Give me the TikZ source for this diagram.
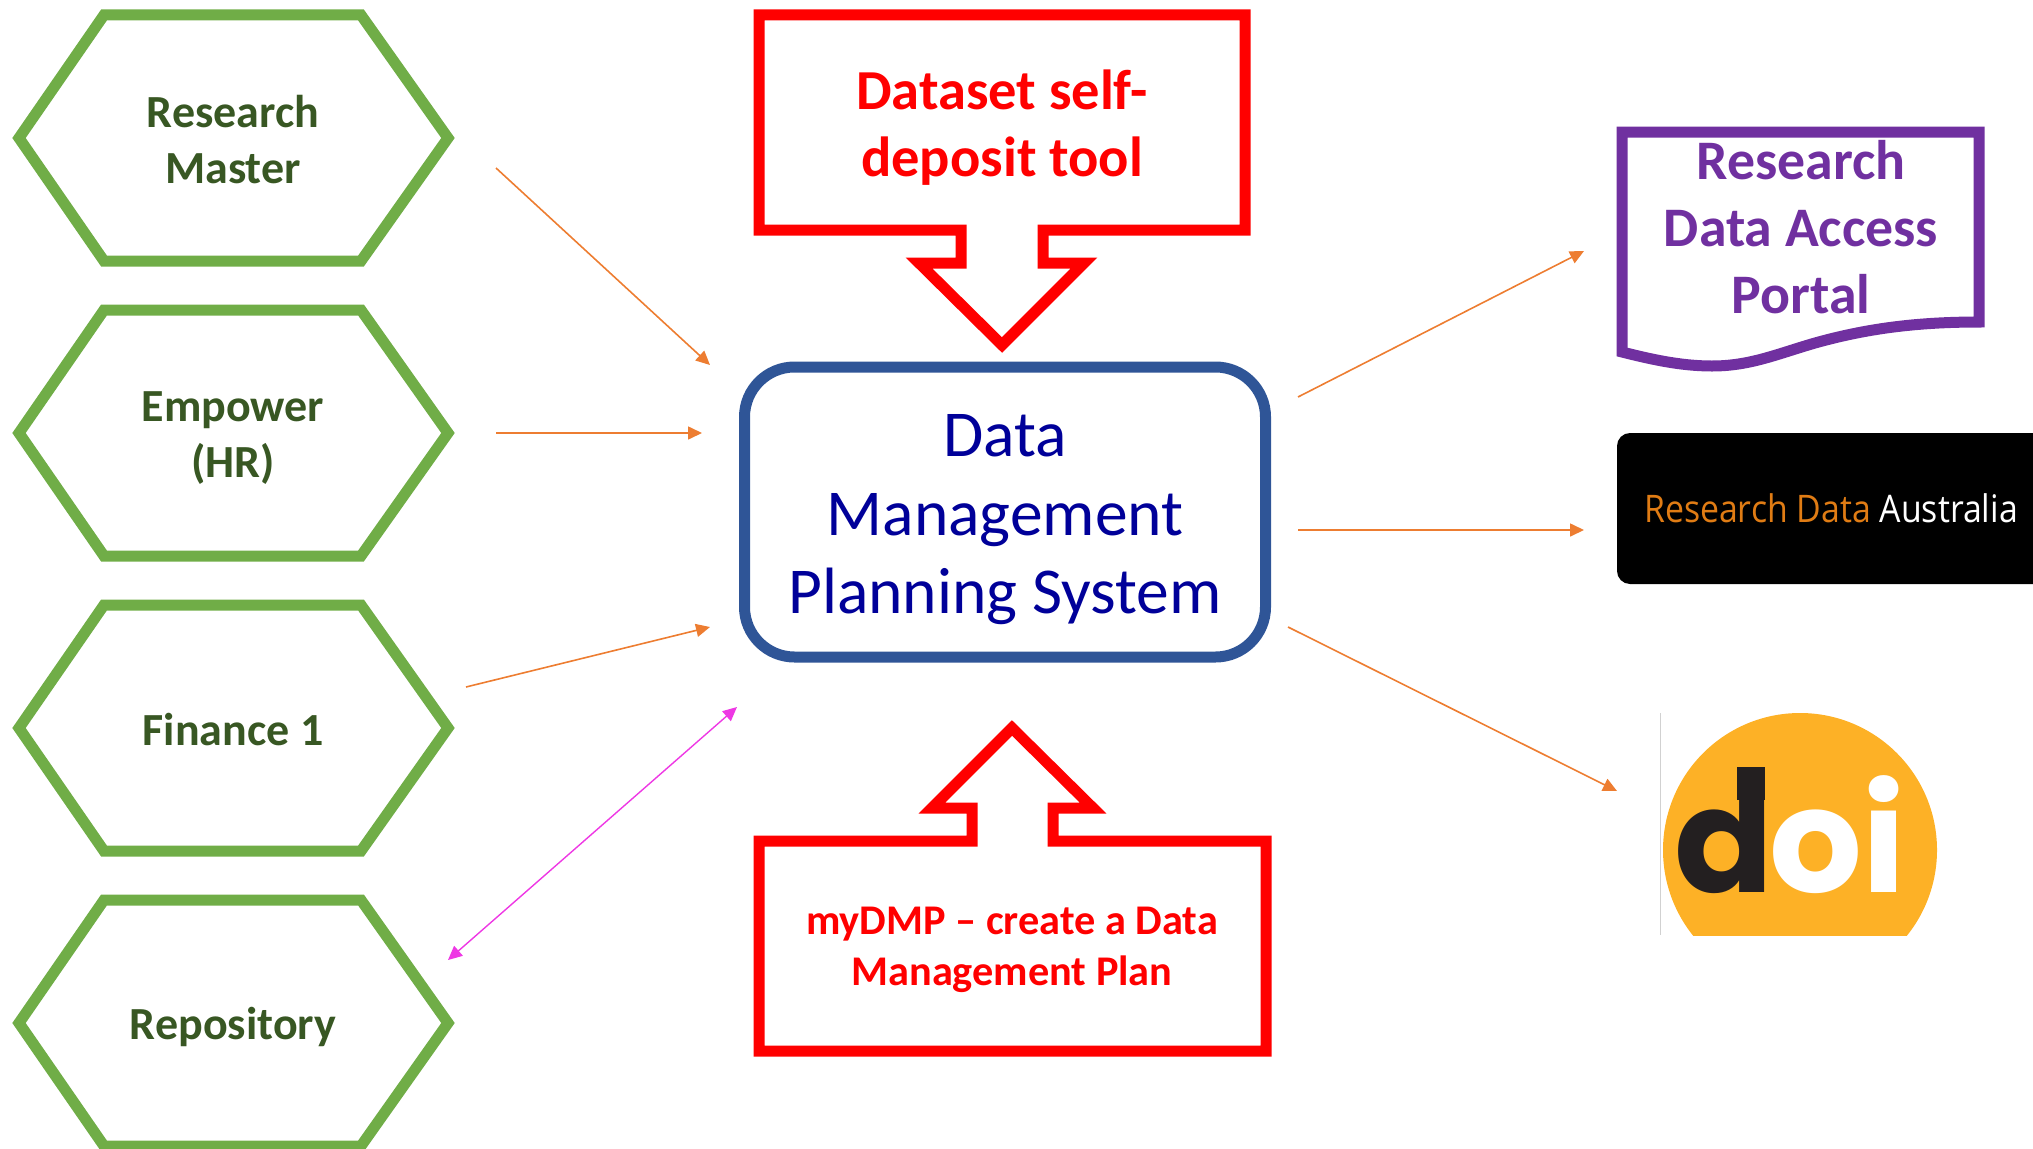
\documentclass[tikz,border=0pt]{standalone}
\usepackage{fontspec}
\setmainfont{Carlito}
\newfontfamily\rdafont{Open Sans}[FakeStretch=0.89]
\newfontfamily\doifont{Poppins}[UprightFont=* Bold]
\usetikzlibrary{arrows.meta}
\definecolor{hexgreen}{HTML}{70AD47}
\definecolor{hextext}{HTML}{385723}
\definecolor{dmpblue}{HTML}{2F5597}
\definecolor{dmptext}{HTML}{000099}
\definecolor{docpurple}{HTML}{7030A0}
\definecolor{arroworange}{HTML}{ED7D31}
\definecolor{linkmagenta}{HTML}{EE38E4}
\definecolor{rdaorange}{HTML}{E07C14}
\definecolor{doiyellow}{HTML}{FDB126}
\definecolor{doiblack}{HTML}{231F20}
\tikzset{
  hexline/.style={draw=hexgreen,line width=11pt},
  hexlabel/.style={inner sep=0pt,align=center,text=hextext,font=\fontsize{46}{56}\selectfont\bfseries},
  calloutline/.style={draw=red,line width=11pt},
  calloutlabel/.style={inner sep=0pt,align=center,text=red},
  flow/.style={draw=arroworange,line width=1.6pt,-{Triangle[length=14pt,width=13pt]}},
  biflow/.style={draw=linkmagenta,line width=1.4pt,{Triangle[length=14pt,width=13pt]}-{Triangle[length=14pt,width=13pt]}}
}
\newcommand{\hexbox}[4]{%
  \draw[hexline] (19,#1) -- (104,#1-123) -- (361,#1-123) -- (448,#1) -- (361,#1+123) -- (104,#1+123) -- cycle;
  \node[hexlabel] (#2) at (233,#1+#3) {#4};
}
\begin{document}
\begin{tikzpicture}[x=1pt,y=-1pt]
\useasboundingbox (0,0) rectangle (2033,1148);
% source systems
\hexbox{138}{rm}{1.5}{Research\\Master}
\hexbox{433}{emp}{5}{Empower\\(HR)}
\hexbox{728}{fin}{1.5}{Finance 1}
\hexbox{1023}{repo}{3.5}{Repository}
% central system
\node[draw=dmpblue,line width=11pt,rounded corners=50pt,minimum width=521pt,minimum height=290pt,inner sep=0pt,outer sep=0pt] (dmp) at (1005,512) {};
\node[inner sep=0pt,align=center,text=dmptext,font=\fontsize{65.5}{78.5}\selectfont] (dmplabel) at (1005,520) {Data\\Management\\Planning System};
% callouts
\draw[calloutline] (759,15) -- (1245,15) -- (1245,230) -- (1043,230) -- (1043,263) -- (1084,263) -- (1002,345) -- (919,263) -- (961,263) -- (961,230) -- (759,230) -- cycle;
\node[calloutlabel,font=\fontsize{56.5}{67.5}\selectfont\bfseries] (selfdep) at (1002,127.5) {Dataset self-\\deposit tool};
\draw[calloutline] (759,841) -- (972,841) -- (972,808) -- (932,808) -- (1012,728) -- (1093,808) -- (1053,808) -- (1053,841) -- (1266,841) -- (1266,1051) -- (759,1051) -- cycle;
\node[calloutlabel,font=\fontsize{42.3}{51}\selectfont\bfseries] (mydmp) at (1012,950) {myDMP -- create a Data\\Management Plan};
% portal
\draw[draw=docpurple,line width=11pt] (1622,132) -- (1979,132) -- (1979,322) .. controls (1915,322) and (1865,329) .. (1815,343) .. controls (1777,354) and (1750,366) .. (1712,366) .. controls (1680,366) and (1650,359) .. (1622,352) -- cycle;
\node[inner sep=0pt,align=center,text=docpurple,font=\fontsize{55.8}{67}\selectfont\bfseries] (portal) at (1801,227.5) {Research\\Data Access\\Portal};
% RDA logo
\fill[black] (2033,433) [rounded corners=13pt] -- (1617,433) -- (1617,584) [sharp corners] -- (2033,584) -- cycle;
\node[inner sep=0pt,font=\fontsize{38}{44}\selectfont\rdafont] (rda) at (1831,508) {\textcolor{rdaorange}{Research Data} \textcolor{white}{Australia}};
% DOI logo
\begin{scope}
\clip (1660,700) rectangle (1945,935);
\fill[doiyellow] (1800,850) circle[radius=137pt];
\end{scope}
\draw[draw=black!18,line width=1pt] (1660,713) -- (1660,935);
\fill[doiblack] (1736.5,767) rectangle (1765,800);
\node[inner sep=0pt,font=\fontsize{146}{150}\selectfont\doifont] (doi) at (1790,835) {\textcolor{doiblack}{d}\kern-4pt\textcolor{white}{oi}};
% connector ends
\coordinate (rmA) at (496,168);   \coordinate (rmB) at (710,365);
\coordinate (empA) at (496,433);  \coordinate (empB) at (702,433);
\coordinate (finA) at (466,687);  \coordinate (finB) at (710,627);
\coordinate (repoA) at (448,960); \coordinate (repoB) at (737,707);
\coordinate (outA) at (1298,397); \coordinate (outB) at (1584,251);
\coordinate (outC) at (1298,530); \coordinate (outD) at (1584,530);
\coordinate (outE) at (1288,627); \coordinate (outF) at (1617,791);
\draw[flow] (rmA) -- (rmB);
\draw[flow] (empA) -- (empB);
\draw[flow] (finA) -- (finB);
\draw[biflow] (repoA) -- (repoB);
\draw[flow] (outA) -- (outB);
\draw[flow] (outC) -- (outD);
\draw[flow] (outE) -- (outF);
\end{tikzpicture}
\end{document}
